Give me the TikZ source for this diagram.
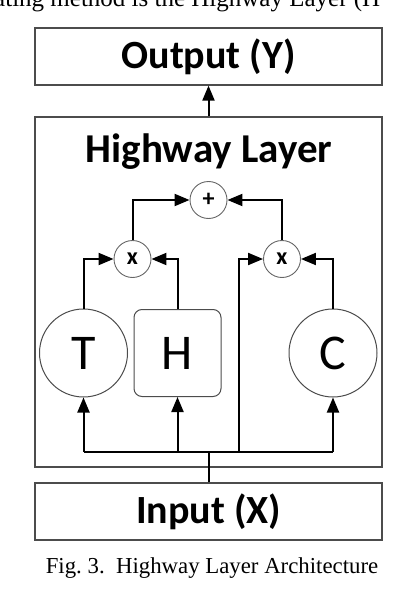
\documentclass[tikz,border=0pt]{standalone}
\usepackage{fontspec}
\setmainfont{Liberation Serif}
\newfontfamily\calibri{Carlito}
\usetikzlibrary{arrows.meta}

\begin{document}
\begin{tikzpicture}[x=1pt,y=-1pt,
    box/.style={draw=black!70, line width=1.2pt, minimum width=347pt},
    sumNode/.style={circle, draw=black!60, line width=0.9pt, minimum size=37pt, inner sep=0pt, font=\calibri\bfseries\fontsize{24}{24}\selectfont},
    gateNode/.style={circle, draw=black!70, line width=1pt, minimum size=88pt, inner sep=0pt, font=\calibri\fontsize{50}{50}\selectfont},
    wire/.style={line width=2pt, -{Triangle[length=15pt,width=12pt]}}]
  \useasboundingbox (0,0) rectangle (408,596);
  % \draw[step=20,thin,gray!40] (0,0) grid (408,596);

  % clipped line of running text above the figure
  \begin{scope}
    \clip (0,0) rectangle (408,596);
    \node[anchor=base west, inner sep=0pt, font=\fontsize{25}{25}\selectfont] (textLine) at (-6,7) {ating method is the Highway Layer (H};
  \end{scope}

  \node[box, minimum height=57pt, font=\calibri\bfseries\fontsize{40}{40}\selectfont] (outputNode) at (208.5,56.5) {Output (Y)};
  \node[box, minimum height=350pt] (layerNode) at (208.5,292) {};
  \node[font=\calibri\bfseries\fontsize{41}{41}\selectfont] (titleNode) at (209,152) {Highway Layer};
  \node[box, minimum height=57pt, font=\calibri\bfseries\fontsize{40}{40}\selectfont] (inputNode) at (208.5,511.5) {Input (X)};

  \node[gateNode] (tNode) at (83.5,353) {T};
  \node[draw=black!70, line width=1pt, rounded corners=8pt, minimum width=87pt, minimum height=87pt, inner sep=0pt, font=\calibri\fontsize{50}{50}\selectfont] (hNode) at (177.5,353) {H};
  \node[gateNode] (cNode) at (333,353) {C};

  \node[sumNode] (plusNode) at (208.5,200) {+};
  \node[sumNode] (timesANode) at (132.5,259) {x};
  \node[sumNode] (timesBNode) at (282,259) {x};

  \coordinate (busT) at (83.5,452);
  \coordinate (busH) at (177.5,452);
  \coordinate (busMid) at (208.5,452);
  \coordinate (busCarry) at (239,452);
  \coordinate (busC) at (333,452);

  \node[font=\fontsize{22.8}{22.8}\selectfont] (captionNode) at (212,568) {Fig.~3.\ \ Highway Layer Architecture};

  % layer to output
  \draw[wire] (layerNode.north) -- (outputNode.south);

  % input bus
  \draw[line width=2pt] (inputNode.north) -- (busMid);
  \draw[line width=2pt] (busT) -- (busC);
  \draw[wire] (busT) -- (tNode.south);
  \draw[wire] (busH) -- (hNode.south);
  \draw[wire] (busC) -- (cNode.south);

  % gates
  \draw[wire] (tNode.north) |- (timesANode.west);
  \draw[wire] (hNode.north) |- (timesANode.east);
  \draw[wire] (busCarry) |- (timesBNode.west);
  \draw[wire] (cNode.north) |- (timesBNode.east);
  \draw[wire] (timesANode.north) |- (plusNode.west);
  \draw[wire] (timesBNode.north) |- (plusNode.east);

\end{tikzpicture}
\end{document}
